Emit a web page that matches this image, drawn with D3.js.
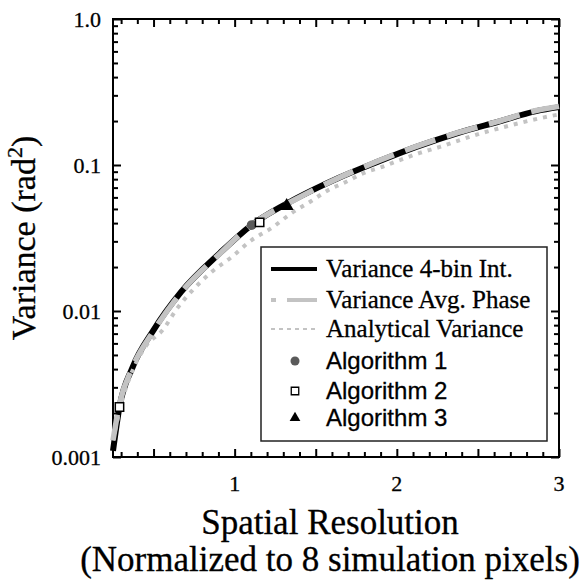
<!DOCTYPE html>
<html>
  <head>
    <meta charset="utf-8">
    <title>Variance vs Spatial Resolution</title>
    <script src="https://d3js.org/d3.v7.min.js"></script>
    <style>
      body { margin: 0; background: #fff; }
      svg { display: block; }
    </style>
  </head>
  <body>
    <div id="chart"></div>
    <script>
      // values
      const resX = [0.25, 0.29, 0.37, 0.50, 0.67, 0.91, 1.10, 1.38, 1.64, 1.88, 2.12, 2.38, 2.62, 2.86, 3.0];
      const var4bin = [0.0011, 0.0022, 0.0041, 0.0074, 0.0135, 0.0250, 0.0385, 0.0590, 0.0815, 0.105, 0.133, 0.166, 0.197, 0.234, 0.249];
      const varAvgPhase = [0.0013, 0.0023, 0.0041, 0.0073, 0.0134, 0.0248, 0.0385, 0.0585, 0.0815, 0.106, 0.134, 0.167, 0.198, 0.236, 0.252];

      const anaX = [0.25, 0.30, 0.37, 0.45, 0.556, 0.648, 0.741, 0.858, 0.981, 1.105, 1.228, 1.352, 1.463, 1.574, 1.691, 1.79, 1.907, 2.019, 2.142, 2.265, 2.389, 2.512, 2.636, 2.759, 2.883, 3.0];
      const anaVar = [0.0013, 0.0023, 0.0039, 0.0057, 0.0074, 0.0105, 0.0139, 0.0185, 0.0234, 0.0306, 0.0370, 0.0469, 0.0558, 0.0670, 0.0770, 0.0875, 0.0969, 0.108, 0.121, 0.133, 0.148, 0.164, 0.179, 0.194, 0.209, 0.222];

      const alg1 = [[1.105, 0.0388]];
      const alg2 = [[1.154, 0.0405], [0.29, 0.0022]];
      const alg3 = [[1.321, 0.0524]];

      const xMajor = [0.5, 1, 1.5, 2, 2.5, 3];
      const xLabels = [1, 2, 3];
      const yMajor = [0.001, 0.01, 0.1, 1];
      const yLabels = ["0.001", "0.01", "0.1", "1.0"];

      const legendItems = ["Variance 4-bin Int.", "Variance Avg. Phase", "Analytical Variance",
                           "Algorithm 1", "Algorithm 2", "Algorithm 3"];

      const W = 581, H = 581;
      const pLeft = 113, pRight = 559, pTop = 19, pBottom = 457;

      const svg = d3.select("#chart").append("svg")
          .attr("width", W)
          .attr("height", H);

      const x = d3.scaleLinear().domain([0.25, 3]).range([pLeft, pRight]);
      const y = d3.scaleLog().domain([0.001, 1]).range([pBottom, pTop]);

      const xMinor = d3.range(3, 30).map(d => d / 10).filter(d => !xMajor.some(m => Math.abs(m - d) < 1e-6));
      const yMinor = [];
      yMajor.slice(0, 3).forEach(dec => { for (let k = 2; k <= 9; k++) yMinor.push(dec * k); });

      // frame
      svg.append("rect")
          .attr("x", pLeft).attr("y", pTop)
          .attr("width", pRight - pLeft).attr("height", pBottom - pTop)
          .attr("fill", "none").attr("stroke", "#000").attr("stroke-width", 2);

      function ticks(axisFn, scale, vals, size, transform) {
        const g = svg.append("g")
            .attr("transform", transform)
            .call(axisFn(scale).tickValues(vals).tickSize(size).tickFormat(""));
        g.select(".domain").remove();
        g.selectAll("line").attr("stroke", "#000").attr("stroke-width", 2);
        return g;
      }

      // ticks point inward on all four sides
      ticks(d3.axisBottom, x, xMajor, -8, `translate(0,${pBottom})`);
      ticks(d3.axisBottom, x, xMinor, -5, `translate(0,${pBottom})`);
      ticks(d3.axisTop, x, xMajor, -8, `translate(0,${pTop})`);
      ticks(d3.axisTop, x, xMinor, -5, `translate(0,${pTop})`);
      ticks(d3.axisLeft, y, yMajor, -8, `translate(${pLeft},0)`);
      ticks(d3.axisLeft, y, yMinor, -5, `translate(${pLeft},0)`);
      ticks(d3.axisRight, y, yMajor, -8, `translate(${pRight},0)`);
      ticks(d3.axisRight, y, yMinor, -5, `translate(${pRight},0)`);

      const serif = "'Liberation Serif', 'Times New Roman', serif";
      const sans = "'Liberation Sans', Arial, sans-serif";

      svg.append("g").selectAll("text")
          .data(xLabels)
          .join("text")
          .attr("x", d => x(d))
          .attr("y", 491)
          .attr("text-anchor", "middle")
          .attr("font-family", serif)
          .attr("font-size", 22)
          .attr("stroke", "#000").attr("stroke-width", 0.3)
          .text(d => d);

      svg.append("g").selectAll("text")
          .data(yMajor)
          .join("text")
          .attr("x", 101)
          .attr("y", d => y(d))
          .attr("dy", "0.35em")
          .attr("text-anchor", "end")
          .attr("font-family", serif)
          .attr("font-size", 22)
          .attr("stroke", "#000").attr("stroke-width", 0.3)
          .text((d, i) => yLabels[i]);

      svg.append("text")
          .attr("x", 330).attr("y", 534)
          .attr("text-anchor", "middle")
          .attr("font-family", serif).attr("font-size", 35)
          .attr("stroke", "#000").attr("stroke-width", 0.3)
          .text("Spatial Resolution");
      svg.append("text")
          .attr("x", 330).attr("y", 571)
          .attr("text-anchor", "middle")
          .attr("font-family", serif).attr("font-size", 35)
          .attr("stroke", "#000").attr("stroke-width", 0.3)
          .text("(Normalized to 8 simulation pixels)");

      const yTitle = svg.append("text")
          .attr("transform", "translate(35,238) rotate(-90)")
          .attr("text-anchor", "middle")
          .attr("font-family", serif).attr("font-size", 34)
          .attr("stroke", "#000").attr("stroke-width", 0.3);
      yTitle.append("tspan").text("Variance (rad");
      yTitle.append("tspan").attr("font-size", 22).attr("dy", -13).text("2");
      yTitle.append("tspan").attr("dy", 13).text(")");

      // curves
      const plot = svg.append("g");
      const line = d3.line()
          .x(d => x(d[0]))
          .y(d => y(d[1]))
          .curve(d3.curveMonotoneX);

      plot.append("path")
          .datum(resX.map((d, i) => [d, var4bin[i]]))
          .attr("d", line)
          .attr("fill", "none").attr("stroke", "#000").attr("stroke-width", 6);

      plot.append("path")
          .datum(resX.map((d, i) => [d, varAvgPhase[i]]))
          .attr("d", line)
          .attr("fill", "none").attr("stroke", "#c3c3c3").attr("stroke-width", 5.5)
          .attr("stroke-dasharray", "32,12")
          .attr("stroke-dashoffset", 6);

      plot.append("path")
          .datum(anaX.map((d, i) => [d, anaVar[i]]))
          .attr("d", line)
          .attr("fill", "none").attr("stroke", "#c3c3c3").attr("stroke-width", 4)
          .attr("stroke-dasharray", "4,6");

      const circleSym = d3.symbol().type(d3.symbolCircle);
      const squareSym = d3.symbol().type(d3.symbolSquare);
      const triSym = d3.symbol().type(d3.symbolTriangle);

      plot.selectAll(".alg1").data(alg1).join("path")
          .attr("class", "alg1")
          .attr("transform", d => `translate(${x(d[0])},${y(d[1])})`)
          .attr("d", circleSym.size(75))
          .attr("fill", "#5a5a5a");
      plot.selectAll(".alg2").data(alg2).join("path")
          .attr("class", "alg2")
          .attr("transform", d => `translate(${x(d[0])},${y(d[1])})`)
          .attr("d", squareSym.size(70))
          .attr("fill", "#fff").attr("stroke", "#000").attr("stroke-width", 1.5);
      plot.selectAll(".alg3").data(alg3).join("path")
          .attr("class", "alg3")
          .attr("transform", d => `translate(${x(d[0])},${y(d[1])})`)
          .attr("d", triSym.size(85))
          .attr("fill", "#000");

      // legend
      const lg = svg.append("g");
      lg.append("rect")
          .attr("x", 261).attr("y", 247)
          .attr("width", 286).attr("height", 194)
          .attr("fill", "#fff").attr("stroke", "#222").attr("stroke-width", 1.5);

      const rowY = [269, 300, 329, 361, 391, 418];
      lg.append("line").attr("x1", 271).attr("x2", 317).attr("y1", rowY[0]).attr("y2", rowY[0])
          .attr("stroke", "#000").attr("stroke-width", 4);
      lg.append("line").attr("x1", 271).attr("x2", 317).attr("y1", rowY[1]).attr("y2", rowY[1])
          .attr("stroke", "#c3c3c3").attr("stroke-width", 4)
          .attr("stroke-dasharray", "5,11,30");
      lg.append("line").attr("x1", 271).attr("x2", 317).attr("y1", rowY[2]).attr("y2", rowY[2])
          .attr("stroke", "#c3c3c3").attr("stroke-width", 2)
          .attr("stroke-dasharray", "4,4");
      lg.append("path").attr("transform", `translate(295,${rowY[3]})`)
          .attr("d", circleSym.size(64)).attr("fill", "#5a5a5a");
      lg.append("path").attr("transform", `translate(295,${rowY[4]})`)
          .attr("d", squareSym.size(56)).attr("fill", "#fff").attr("stroke", "#000").attr("stroke-width", 1.3);
      lg.append("path").attr("transform", `translate(295,${rowY[5]})`)
          .attr("d", triSym.size(50)).attr("fill", "#000");

      lg.selectAll(".lt").data(legendItems).join("text")
          .attr("class", "lt")
          .attr("x", 326)
          .attr("y", (d, i) => rowY[i])
          .attr("dy", "0.33em")
          .attr("font-family", (d, i) => i < 3 ? serif : sans)
          .attr("font-size", (d, i) => i < 3 ? 25 : 24)
          .attr("stroke", "#000").attr("stroke-width", 0.3)
          .text(d => d);
    </script>
  </body>
</html>
